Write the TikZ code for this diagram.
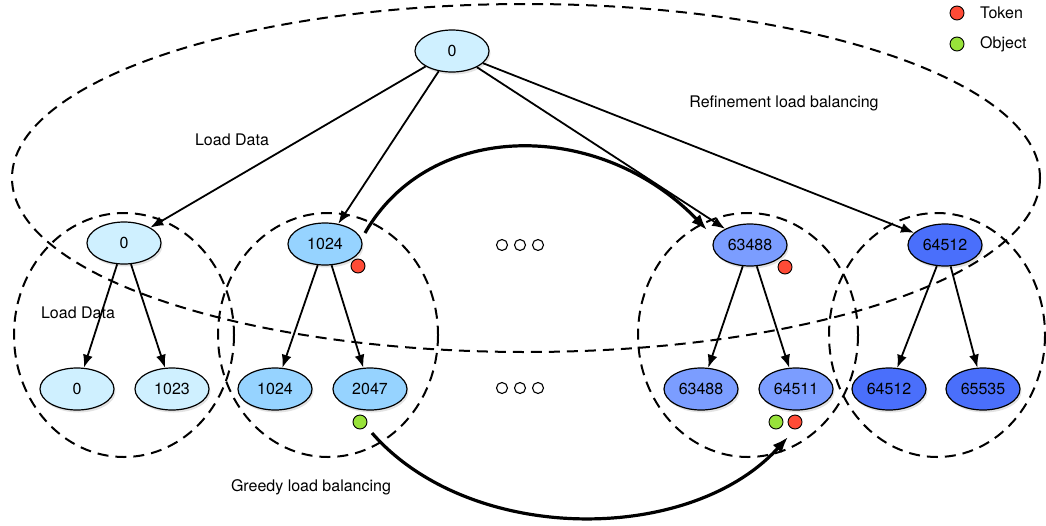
\documentclass[tikz,border=0pt]{standalone}
\usepackage{fontspec}
\setmainfont{TeX Gyre Heros}
\usetikzlibrary{shapes.geometric,arrows.meta,shadows}
\definecolor{cA}{HTML}{CFF0FF}
\definecolor{cB}{HTML}{96D3FF}
\definecolor{cC}{HTML}{7B9DFF}
\definecolor{cD}{HTML}{4A6FFB}
\definecolor{tok}{HTML}{FF4B36}
\definecolor{obj}{HTML}{98E23A}
\begin{document}
\begin{tikzpicture}[x=1pt,y=-1pt,
  nd/.style={ellipse,draw,line width=1.2pt,minimum width=74pt,minimum height=42pt,inner sep=0pt,
    font=\fontsize{16}{18}\selectfont,
    drop shadow={shadow xshift=1.5pt,shadow yshift=-2.5pt,opacity=0.22}},
  region/.style={draw,line width=2pt,dash pattern=on 11pt off 7pt},
  arr/.style={-{Latex[length=13pt,width=10pt]},line width=1.8pt},
  bigarr/.style={-{Latex[length=16pt,width=12pt]},line width=3.2pt},
  dot/.style={circle,draw,line width=0.9pt,minimum size=14pt,inner sep=0pt},
  ell/.style={circle,draw,line width=1.1pt,fill=white,minimum size=11pt,inner sep=0pt},
  lbl/.style={font=\fontsize{16}{18}\selectfont,inner sep=0pt}
]
\useasboundingbox (0,0) rectangle (1046,525);

% dashed regions
\draw[region] (526,178) ellipse [x radius=514, y radius=174];
\draw[region] (124,335) ellipse [x radius=110, y radius=122];
\draw[region] (328,335) ellipse [x radius=110, y radius=122];
\draw[region] (748,335) ellipse [x radius=110, y radius=122];
\draw[region] (937,335) ellipse [x radius=108, y radius=122];

% nodes
\node[nd,fill=cA] (r) at (452,51) {0};
\node[nd,fill=cA] (a) at (124,243) {0};
\node[nd,fill=cB] (b) at (325,244) {1024};
\node[nd,fill=cC] (c) at (750,245) {63488};
\node[nd,fill=cD] (d) at (945,245) {64512};
\node[nd,fill=cA] (a1) at (77,389) {0};
\node[nd,fill=cA] (a2) at (172,389) {1023};
\node[nd,fill=cB] (b1) at (275,389) {1024};
\node[nd,fill=cB] (b2) at (370,389) {2047};
\node[nd,fill=cC] (c1) at (701,389) {63488};
\node[nd,fill=cC] (c2) at (796,389) {64511};
\node[nd,fill=cD] (d1) at (889,389) {64512};
\node[nd,fill=cD] (d2) at (983,389) {65535};

% tokens and objects
\node[dot,fill=tok] (t1) at (358,266) {};
\node[dot,fill=tok] (t2) at (785,267) {};
\node[dot,fill=obj] (o1) at (360,422) {};
\node[dot,fill=obj] (o2) at (776,422) {};
\node[dot,fill=tok] (t3) at (795,422) {};

% ellipses
\node[ell] (e1) at (502,245) {};
\node[ell] (e2) at (520,245) {};
\node[ell] (e3) at (538,245) {};
\node[ell] (e4) at (502,388) {};
\node[ell] (e5) at (520,388) {};
\node[ell] (e6) at (538,388) {};

% arrows
\draw[arr] (r) -- (a);
\draw[arr] (r) -- (b);
\draw[arr] (r) -- (c);
\draw[arr] (r) -- (d);
\draw[arr] (a) -- (a1);
\draw[arr] (a) -- (a2);
\draw[arr] (b) -- (b1);
\draw[arr] (b) -- (b2);
\draw[arr] (c) -- (c1);
\draw[arr] (c) -- (c2);
\draw[arr] (d) -- (d1);
\draw[arr] (d) -- (d2);

\coordinate (s1) at (365,233);
\coordinate (f1) at (707,230);
\draw[bigarr] (s1) .. controls (430,119) and (600,119) .. (f1);
\coordinate (s2) at (372,433);
\coordinate (f2) at (788,437);
\draw[bigarr] (s2) .. controls (470,545) and (690,545) .. (f2);

% labels
\node[lbl] (l1) at (232,140) {Load Data};
\node[lbl] (l2) at (78,313) {Load Data};
\node[lbl] (l3) at (784,103) {Refinement load balancing};
\node[lbl] (l4) at (311,487) {Greedy load balancing};

% legend
\node[dot,fill=tok] (lt) at (957,13) {};
\node[dot,fill=obj] (lo) at (957,44) {};
\node[lbl,anchor=west] (ltt) at (980,13) {Token};
\node[lbl,anchor=west] (lot) at (980,44) {Object};
\end{tikzpicture}
\end{document}
